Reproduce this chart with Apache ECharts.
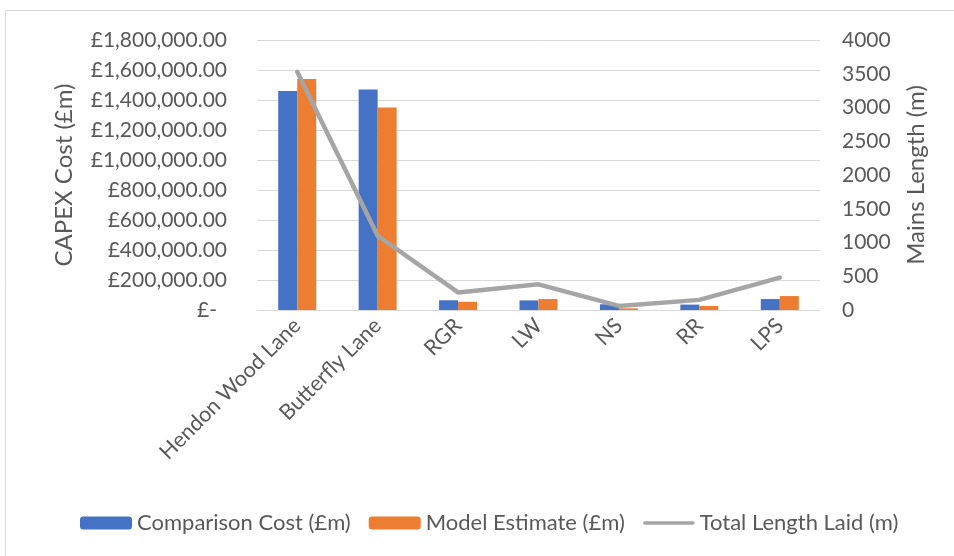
<!DOCTYPE html>
<html>
<head>
<meta charset="utf-8">
<script src="https://cdn.jsdelivr.net/npm/echarts@6/dist/echarts.min.js"></script>
<style>
  html, body { margin: 0; padding: 0; background: #fff; }
  #chart { width: 954px; height: 556px; }
</style>
</head>
<body>
<div id="chart"></div>
<script>
// Schemes compared
const categories = ['Hendon Wood Lane', 'Butterfly Lane', 'RGR', 'LW', 'NS', 'RR', 'LPS'];
// CAPEX figures (£)
const comparisonCost = [1460000, 1470000, 65000, 64000, 38000, 36000, 73000];
const modelEstimate = [1540000, 1350000, 55000, 73000, 11000, 27000, 93000];
// Mains laid (m)
const totalLength = [3530, 1100, 260, 380, 60, 150, 480];

const seriesNames = ['Comparison Cost (£m)', 'Model Estimate (£m)', 'Total Length Laid (m)'];
const leftAxisName = 'CAPEX Cost (£m)';
const rightAxisName = 'Mains Length (m)';

const FONT = 'Lato, "Open Sans", sans-serif';
const TEXT = '#595959';
const GRID = '#d9d9d9';
const LINE = '#a5a5a5';

// Accounting-style currency labels; zero shows as a dash
function money(v) {
  if (v === 0) return '{dash|£-}';
  return '£' + v.toLocaleString('en-GB') + '.00';
}

// Legend key for the line: a thin bar centred in the 52x13 key box
const lineKey = 'path://M0,0L0,0M0,13L0,13M2,4.75L50,4.75A1.75,1.75,0,0,1,50,8.25L2,8.25A1.75,1.75,0,0,1,2,4.75Z';

const chart = echarts.init(document.getElementById('chart'), null, { renderer: 'canvas' });
chart.setOption({
  backgroundColor: '#ffffff',
  animation: false,
  textStyle: { fontFamily: FONT, color: TEXT },
  graphic: [{
    type: 'rect',
    shape: { x: 5.5, y: 10.5, width: 1000, height: 700 },
    style: { fill: 'none', stroke: '#d9d9d9', lineWidth: 1 },
    silent: true
  }],
  grid: { left: 257, right: 134, top: 40, bottom: 246, containLabel: false },
  legend: {
    data: [
      { name: seriesNames[0] },
      { name: seriesNames[1] },
      { name: seriesNames[2], icon: lineKey, itemStyle: { color: LINE } }
    ],
    bottom: 17,
    left: 75,
    itemWidth: 52,
    itemHeight: 13,
    itemGap: 18,
    textStyle: { fontFamily: FONT, fontSize: 22, color: TEXT }
  },
  xAxis: {
    type: 'category',
    data: categories,
    axisLine: { lineStyle: { color: GRID, width: 1 } },
    axisTick: { show: false },
    axisLabel: { rotate: 45, fontSize: 21.5, color: TEXT, fontFamily: FONT, margin: 12, interval: 0 }
  },
  yAxis: [{
    type: 'value',
    min: 0, max: 1800000, interval: 200000,
    name: leftAxisName,
    nameLocation: 'middle',
    nameGap: 181,
    nameTextStyle: { fontSize: 24, color: TEXT, fontFamily: FONT },
    axisLine: { show: false },
    axisTick: { show: false },
    splitLine: { lineStyle: { color: GRID, width: 1 } },
    axisLabel: {
      fontSize: 21, color: TEXT, fontFamily: FONT, margin: 30,
      formatter: money,
      rich: { dash: { fontSize: 21, color: TEXT, fontFamily: FONT, padding: [0, 10, 0, 0] } }
    }
  }, {
    type: 'value',
    min: 0, max: 4000, interval: 500,
    name: rightAxisName,
    nameLocation: 'middle',
    nameGap: 84,
    nameTextStyle: { fontSize: 24, color: TEXT, fontFamily: FONT },
    axisLine: { show: false },
    axisTick: { show: false },
    splitLine: { show: false },
    axisLabel: { fontSize: 21, color: TEXT, fontFamily: FONT, margin: 22, formatter: v => String(v) }
  }],
  series: [{
    name: seriesNames[0],
    type: 'bar',
    data: comparisonCost,
    barWidth: 19,
    barGap: '0%',
    itemStyle: { color: '#4472c4' }
  }, {
    name: seriesNames[1],
    type: 'bar',
    data: modelEstimate,
    barWidth: 19,
    itemStyle: { color: '#ed7d31' }
  }, {
    name: seriesNames[2],
    type: 'line',
    yAxisIndex: 1,
    data: totalLength,
    symbol: 'none',
    lineStyle: { color: LINE, width: 4.5, cap: 'round', join: 'round' },
    itemStyle: { color: LINE }
  }]
});
</script>
</body>
</html>
